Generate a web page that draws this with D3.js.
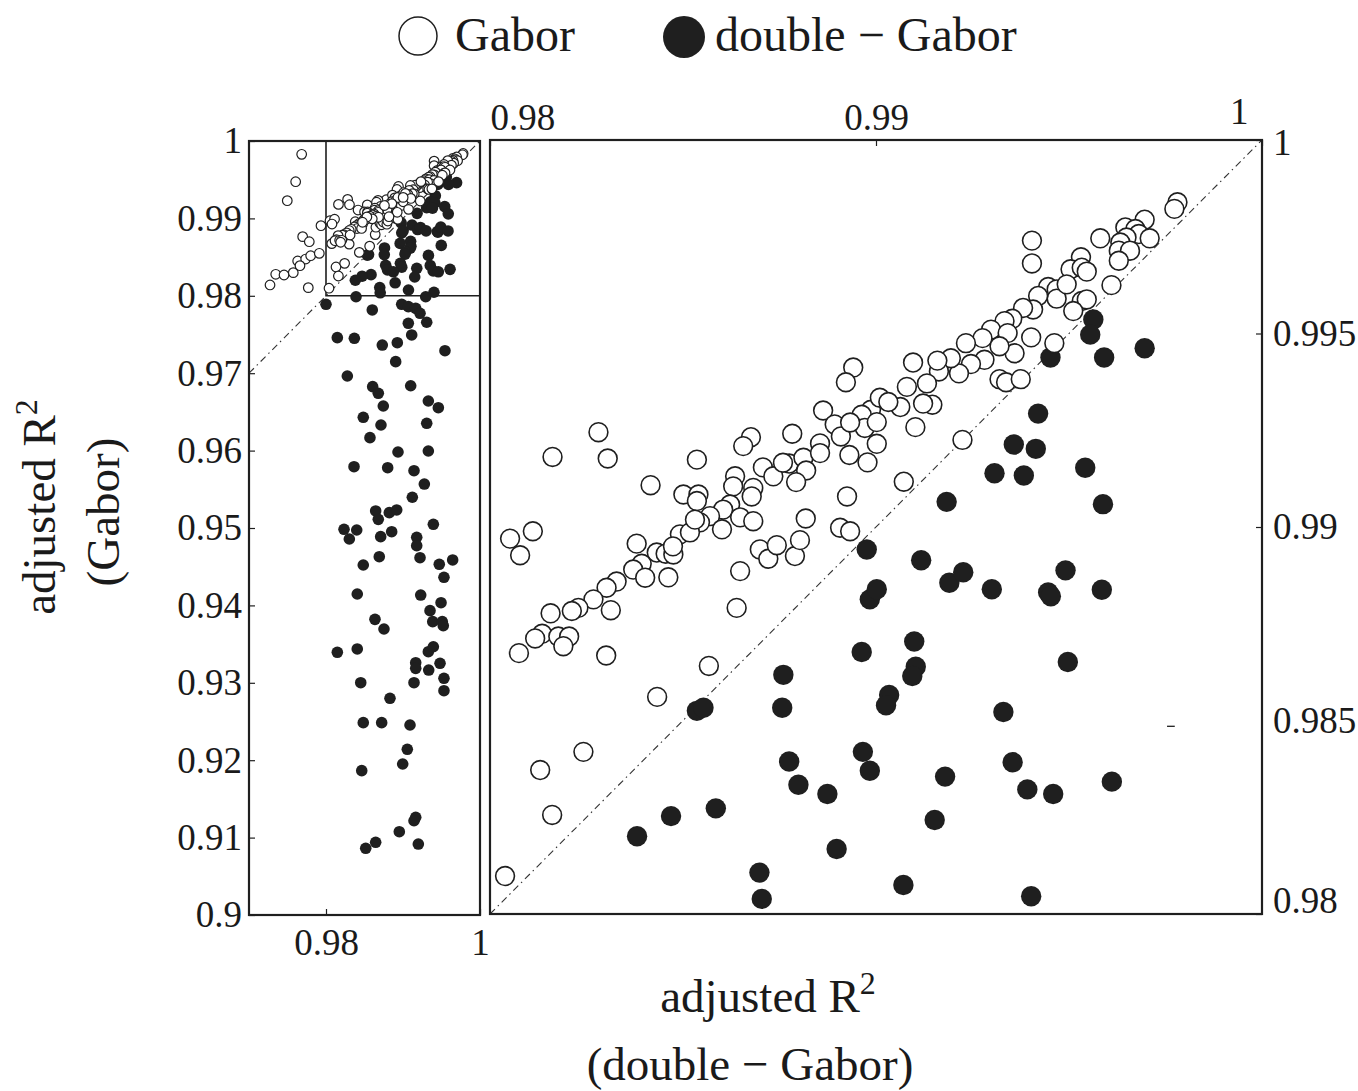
<!DOCTYPE html>
<html>
<head>
<meta charset="utf-8">
<script src="https://cdn.jsdelivr.net/npm/d3@7"></script>
<style>
  body { margin: 0; background: #fff; }
  text { font-family: "Liberation Serif", "Times New Roman", serif; fill: #1a1a1a; }
</style>
</head>
<body>
<div id="chart"></div>
<script>
// adjusted R^2 pairs: [double-Gabor, Gabor]
// points inside the zoomed window [0.98,1] x [0.98,1]
var gaborZoom = [
  [0.98039,0.98098],[0.98130,0.98372],[0.98161,0.98256],[0.98242,0.98419],[0.98433,0.98561],
  [0.98567,0.98641],[0.98301,0.98668],[0.98075,0.98674],[0.98052,0.98970],[0.98111,0.98989],
  [0.98078,0.98927],[0.98162,0.99181],[0.98281,0.99245],[0.98305,0.99177],[0.98416,0.99108],
  [0.98536,0.99174],[0.98639,0.98791],[0.98648,0.98886],[0.98380,0.98957],[0.98432,0.98934],
  [0.98455,0.98931],[0.98475,0.98929],[0.98393,0.98905],[0.98371,0.98890],[0.98402,0.98869],
  [0.98462,0.98870],[0.98328,0.98859],[0.98302,0.98843],[0.98268,0.98813],[0.98229,0.98791],
  [0.98212,0.98783],[0.98313,0.98785],[0.98157,0.98777],[0.98135,0.98724],[0.98117,0.98712],
  [0.98177,0.98717],[0.98205,0.98717],[0.98190,0.98692],[0.98699,0.98942],[0.98721,0.98918],
  [0.98743,0.98953],[0.98790,0.98925],[0.98803,0.98966],[0.98907,0.98998],[0.98933,0.98989],
  [0.98941,0.99412],[0.98922,0.99374],[0.98783,0.99241],[0.98676,0.99232],[0.98656,0.99209],
  [0.98863,0.99301],[0.98893,0.99265],[0.98855,0.99216],[0.98909,0.99234],[0.98931,0.99186],
  [0.98978,0.99167],[0.98987,0.99303],[0.98963,0.99290],[0.98971,0.99256],[0.99002,0.99215],
  [0.98933,0.99270],[0.98707,0.99154],[0.98734,0.99131],[0.98775,0.99164],[0.98812,0.99179],
  [0.98819,0.99146],[0.98793,0.99116],[0.98855,0.99191],[0.98635,0.99131],[0.98630,0.99105],
  [0.98682,0.99101],[0.98678,0.99079],[0.98501,0.99084],[0.98540,0.99084],[0.98536,0.99067],
  [0.98925,0.99079],[0.98818,0.99022],[0.98622,0.99058],[0.98604,0.99045],[0.98648,0.99025],
  [0.98570,0.99028],[0.98544,0.99012],[0.98682,0.99015],[0.99010,0.99334],[0.98759,0.99166],
  [0.98492,0.98981],[0.98518,0.98986],[0.98601,0.98994],[0.98531,0.99019],[0.98474,0.98950],
  [0.99781,0.99839],[0.99773,0.99822],[0.99696,0.99794],[0.99646,0.99774],[0.99672,0.99770],
  [0.99681,0.99757],[0.99709,0.99746],[0.99649,0.99748],[0.99633,0.99735],[0.99629,0.99714],
  [0.99658,0.99714],[0.99581,0.99746],[0.99629,0.99688],[0.99404,0.99740],[0.99404,0.99681],
  [0.99531,0.99697],[0.99504,0.99666],[0.99533,0.99670],[0.99546,0.99660],[0.99610,0.99625],
  [0.99446,0.99620],[0.99468,0.99614],[0.99468,0.99590],[0.99494,0.99627],[0.99420,0.99597],
  [0.99407,0.99562],[0.99381,0.99566],[0.99533,0.99584],[0.99546,0.99588],[0.99511,0.99558],
  [0.99353,0.99538],[0.99333,0.99532],[0.99298,0.99510],[0.99276,0.99488],[0.99341,0.99501],
  [0.99402,0.99490],[0.99359,0.99449],[0.99320,0.99467],[0.99462,0.99475],[0.99281,0.99432],
  [0.99246,0.99421],[0.99215,0.99397],[0.99194,0.99436],[0.99163,0.99402],[0.99159,0.99430],
  [0.99233,0.99475],[0.99096,0.99425],[0.99132,0.99371],[0.99080,0.99362],[0.99146,0.99316],
  [0.99122,0.99319],[0.99063,0.99310],[0.99032,0.99323],[0.99320,0.99382],[0.99337,0.99374],
  [0.99375,0.99382],[0.99102,0.99258],[0.99224,0.99225],[0.99072,0.99117],[0.99002,0.99271]
];

var doubleZoom = [
  [0.99563,0.99536],[0.99555,0.99497],[0.99696,0.99462],[0.99591,0.99438],[0.99452,0.99438],
  [0.99420,0.99293],[0.99357,0.99213],[0.99414,0.99202],[0.99542,0.99153],[0.99307,0.99139],
  [0.99383,0.99133],[0.99183,0.99065],[0.99588,0.99059],[0.98976,0.98942],[0.98984,0.98813],
  [0.99002,0.98839],[0.99117,0.98914],[0.99190,0.98856],[0.99226,0.98883],[0.99300,0.98839],
  [0.99446,0.98831],[0.99453,0.98821],[0.99491,0.98888],[0.99585,0.98838],[0.99099,0.98704],
  [0.99103,0.98639],[0.99094,0.98615],[0.98963,0.98677],[0.99034,0.98566],[0.99026,0.98539],
  [0.99330,0.98522],[0.99497,0.98651],[0.98966,0.98419],[0.98984,0.98370],[0.99179,0.98355],
  [0.99354,0.98392],[0.99392,0.98322],[0.99459,0.98310],[0.99611,0.98342],[0.99152,0.98243],
  [0.99071,0.98075],[0.99402,0.98046],[0.98760,0.98618],[0.98757,0.98533],[0.98536,0.98525],
  [0.98553,0.98533],[0.98775,0.98394],[0.98799,0.98334],[0.98874,0.98310],[0.98585,0.98273],
  [0.98469,0.98253],[0.98381,0.98201],[0.98898,0.98168],[0.98698,0.98107],[0.98704,0.98039]
];

// points only visible in the wide panel
var gaborWide = [
  [0.97684,0.99828],[0.97606,0.99474],[0.97497,0.99229],[0.97273,0.98140],[0.97347,0.98278],
  [0.97455,0.98269],[0.97575,0.98299],[0.97632,0.98450],[0.97736,0.98475],[0.97801,0.98518],
  [0.97913,0.98549],[0.97697,0.98764],[0.97783,0.98699],[0.97770,0.98105],[0.97935,0.98906],
  [0.97662,0.98389]
];

var doubleWide = [
  [0.98000,0.97890],[0.98390,0.97988],[0.98601,0.97817],[0.98983,0.97890],[0.99069,0.97860],
  [0.99165,0.97838],[0.99221,0.97774],[0.99295,0.97988],[0.99069,0.97645],[0.99308,0.97658],
  [0.99113,0.97494],[0.98147,0.97459],[0.98368,0.97451],[0.98731,0.97364],[0.98926,0.97394],
  [0.99545,0.97291],[0.98905,0.97149],[0.98277,0.96964],[0.98606,0.96826],[0.98679,0.96740],
  [0.99100,0.96838],[0.98744,0.96576],[0.99329,0.96641],[0.99459,0.96554],[0.98484,0.96430],
  [0.98714,0.96331],[0.99308,0.96353],[0.98571,0.96167],[0.98935,0.95982],[0.99329,0.95995],
  [0.98364,0.95792],[0.98801,0.95779],[0.99143,0.95740],[0.99277,0.95568],[0.99121,0.95397],
  [0.98645,0.95220],[0.98679,0.95112],[0.98822,0.95198],[0.98918,0.95233],[0.99394,0.95048],
  [0.98234,0.94983],[0.98399,0.94974],[0.98303,0.94858],[0.98710,0.94888],[0.98853,0.94952],
  [0.99178,0.94880],[0.99178,0.94771],[0.98692,0.94629],[0.99221,0.94616],[0.98484,0.94522],
  [0.99471,0.94531],[0.99645,0.94587],[0.99532,0.94363],[0.98406,0.94147],[0.99230,0.94134],
  [0.99494,0.94035],[0.99351,0.93932],[0.99386,0.93790],[0.99510,0.93790],[0.99523,0.93738],
  [0.98636,0.93820],[0.98753,0.93695],[0.98147,0.93394],[0.98406,0.93437],[0.99329,0.93402],
  [0.99394,0.93466],[0.99165,0.93260],[0.99165,0.93187],[0.99334,0.93165],[0.99481,0.93252],
  [0.99532,0.93058],[0.99532,0.92898],[0.99143,0.93001],[0.98451,0.93001],[0.98831,0.92800],
  [0.98484,0.92485],[0.98723,0.92485],[0.99091,0.92455],[0.99056,0.92141],[0.98996,0.91951],
  [0.98464,0.91865],[0.99165,0.91262],[0.99143,0.91218],[0.98952,0.91076],[0.98516,0.90862],
  [0.98645,0.90939],[0.99199,0.90917]
];

var wideXTicks = [0.98, 1];
var wideYTicks = [0.9, 0.91, 0.92, 0.93, 0.94, 0.95, 0.96, 0.97, 0.98, 0.99, 1];
var zoomXTicks = [0.98, 0.99, 1];
var zoomYTicks = [0.98, 0.985, 0.99, 0.995, 1];
var seriesNames = ["Gabor", "double \u2212 Gabor"];

var gaborAll = gaborZoom.concat(gaborWide);
var doubleAll = doubleZoom.concat(doubleWide);

var ink = "#1f1f1f";
var fmt = function (d) { return String(+d.toFixed(3)); };

var svg = d3.select("#chart").append("svg")
  .attr("width", 1358)
  .attr("height", 1091);

// scales
var xL = d3.scaleLinear().domain([0.97, 1]).range([249, 480]);
var yL = d3.scaleLinear().domain([0.9, 1]).range([915, 141]);
var xR = d3.scaleLinear().domain([0.98, 1]).range([490, 1262]);
var yR = d3.scaleLinear().domain([0.98, 1]).range([914, 140]);

function inside(d, xs, ys) {
  var xd = xs.domain(), yd = ys.domain();
  return d[0] >= xd[0] && d[0] <= xd[1] && d[1] >= yd[0] && d[1] <= yd[1];
}

function diagonal(g, xs, ys, lo) {
  g.append("line")
    .attr("x1", xs(lo)).attr("y1", ys(lo))
    .attr("x2", xs(1)).attr("y2", ys(1))
    .attr("stroke", "#333")
    .attr("stroke-width", 1.1)
    .attr("stroke-dasharray", "7,4,1.5,4");
}

function drawPoints(g, xs, ys, r, rFill, sw) {
  g.append("g").selectAll("circle")
    .data(doubleAll.filter(function (d) { return inside(d, xs, ys); }))
    .join("circle")
    .attr("cx", function (d) { return xs(d[0]); })
    .attr("cy", function (d) { return ys(d[1]); })
    .attr("r", rFill)
    .attr("fill", ink);

  g.append("g").selectAll("circle")
    .data(gaborAll.filter(function (d) { return inside(d, xs, ys); }))
    .join("circle")
    .attr("cx", function (d) { return xs(d[0]); })
    .attr("cy", function (d) { return ys(d[1]); })
    .attr("r", r)
    .attr("fill", "#fff")
    .attr("stroke", ink)
    .attr("stroke-width", sw);
}

function styleAxis(g) {
  g.select(".domain").remove();
  g.attr("font-family", null).attr("font-size", 37);
  g.selectAll("line").attr("stroke", ink).attr("stroke-width", 1.2);
  g.selectAll("text").attr("fill", ink);
}

// ---- wide panel ----
var left = svg.append("g");
diagonal(left, xL, yL, 0.97);

// zoom window outline
left.append("path")
  .attr("d", "M" + xL(0.98) + "," + yL(1) + "V" + yL(0.98) + "H" + xL(1))
  .attr("fill", "none")
  .attr("stroke", ink)
  .attr("stroke-width", 1.6);

drawPoints(left, xL, yL, 4.8, 5.8, 1.2);

left.append("g")
  .attr("transform", "translate(" + xL(0.97) + ",0)")
  .call(d3.axisLeft(yL).tickValues(wideYTicks).tickSize(-6).tickPadding(7).tickFormat(fmt))
  .call(styleAxis);

left.append("g")
  .attr("transform", "translate(0," + yL(0.9) + ")")
  .call(d3.axisBottom(xL).tickValues(wideXTicks).tickSize(-6).tickPadding(14).tickFormat(fmt))
  .call(styleAxis);

left.append("rect")
  .attr("x", xL(0.97)).attr("y", yL(1))
  .attr("width", xL(1) - xL(0.97)).attr("height", yL(0.9) - yL(1))
  .attr("fill", "none").attr("stroke", ink).attr("stroke-width", 2.2);

// ---- zoomed panel ----
var right = svg.append("g");
diagonal(right, xR, yR, 0.98);
drawPoints(right, xR, yR, 9.4, 10.2, 1.6);

var topAxis = right.append("g")
  .attr("transform", "translate(0," + yR(1) + ")")
  .call(d3.axisTop(xR).tickValues(zoomXTicks).tickSize(-6).tickPadding(10).tickFormat(fmt))
  .call(styleAxis);
topAxis.selectAll(".tick text")
  .attr("text-anchor", function (d, i) { return i === 0 ? "start" : (i === zoomXTicks.length - 1 ? "end" : "middle"); })
  .attr("x", function (d, i) { return i === zoomXTicks.length - 1 ? -14 : 0; })
  .attr("dy", function (d, i) { return i === zoomXTicks.length - 1 ? "-0.15em" : "0em"; });

var rightAxis = right.append("g")
  .attr("transform", "translate(" + xR(1) + ",0)")
  .call(d3.axisRight(yR).tickValues(zoomYTicks).tickSize(-6).tickPadding(11).tickFormat(fmt))
  .call(styleAxis);
rightAxis.selectAll(".tick text")
  .attr("y", function (d) { return d === 0.98 ? -13 : (d === 1 ? 3 : 0); });
// the 0.985 tick mark sits displaced inside the plot in the original
rightAxis.selectAll(".tick line").filter(function (d) { return d === 0.985; }).remove();
right.append("line")
  .attr("x1", xR(0.99754)).attr("x2", xR(0.99774))
  .attr("y1", yR(0.98485)).attr("y2", yR(0.98485))
  .attr("stroke", ink).attr("stroke-width", 1.3);

right.append("rect")
  .attr("x", xR(0.98)).attr("y", yR(1))
  .attr("width", xR(1) - xR(0.98)).attr("height", yR(0.98) - yR(1))
  .attr("fill", "none").attr("stroke", ink).attr("stroke-width", 2.2);

// ---- axis titles ----
var xTitle = svg.append("text")
  .attr("x", 768).attr("y", 1012)
  .attr("text-anchor", "middle")
  .attr("font-size", 47);
xTitle.append("tspan").text("adjusted R");
xTitle.append("tspan").attr("font-size", 32).attr("dy", -18).text("2");

svg.append("text")
  .attr("x", 750).attr("y", 1080)
  .attr("text-anchor", "middle")
  .attr("font-size", 47)
  .text("(" + seriesNames[1] + ")");

var yTitle = svg.append("text")
  .attr("transform", "translate(55,507) rotate(-90)")
  .attr("text-anchor", "middle")
  .attr("font-size", 47);
yTitle.append("tspan").text("adjusted R");
yTitle.append("tspan").attr("font-size", 32).attr("dy", -18).text("2");

svg.append("text")
  .attr("transform", "translate(119,512) rotate(-90)")
  .attr("text-anchor", "middle")
  .attr("font-size", 47)
  .text("(" + seriesNames[0] + ")");

// ---- legend ----
var legend = svg.append("g");
legend.append("circle")
  .attr("cx", 418).attr("cy", 36).attr("r", 19)
  .attr("fill", "#fff").attr("stroke", ink).attr("stroke-width", 1.5);
legend.append("text")
  .attr("x", 455).attr("y", 51)
  .attr("font-size", 48)
  .text(seriesNames[0]);
legend.append("ellipse")
  .attr("cx", 684).attr("cy", 37).attr("rx", 21).attr("ry", 21)
  .attr("fill", ink);
legend.append("text")
  .attr("x", 715).attr("y", 51)
  .attr("font-size", 48)
  .text(seriesNames[1]);
</script>
</body>
</html>
